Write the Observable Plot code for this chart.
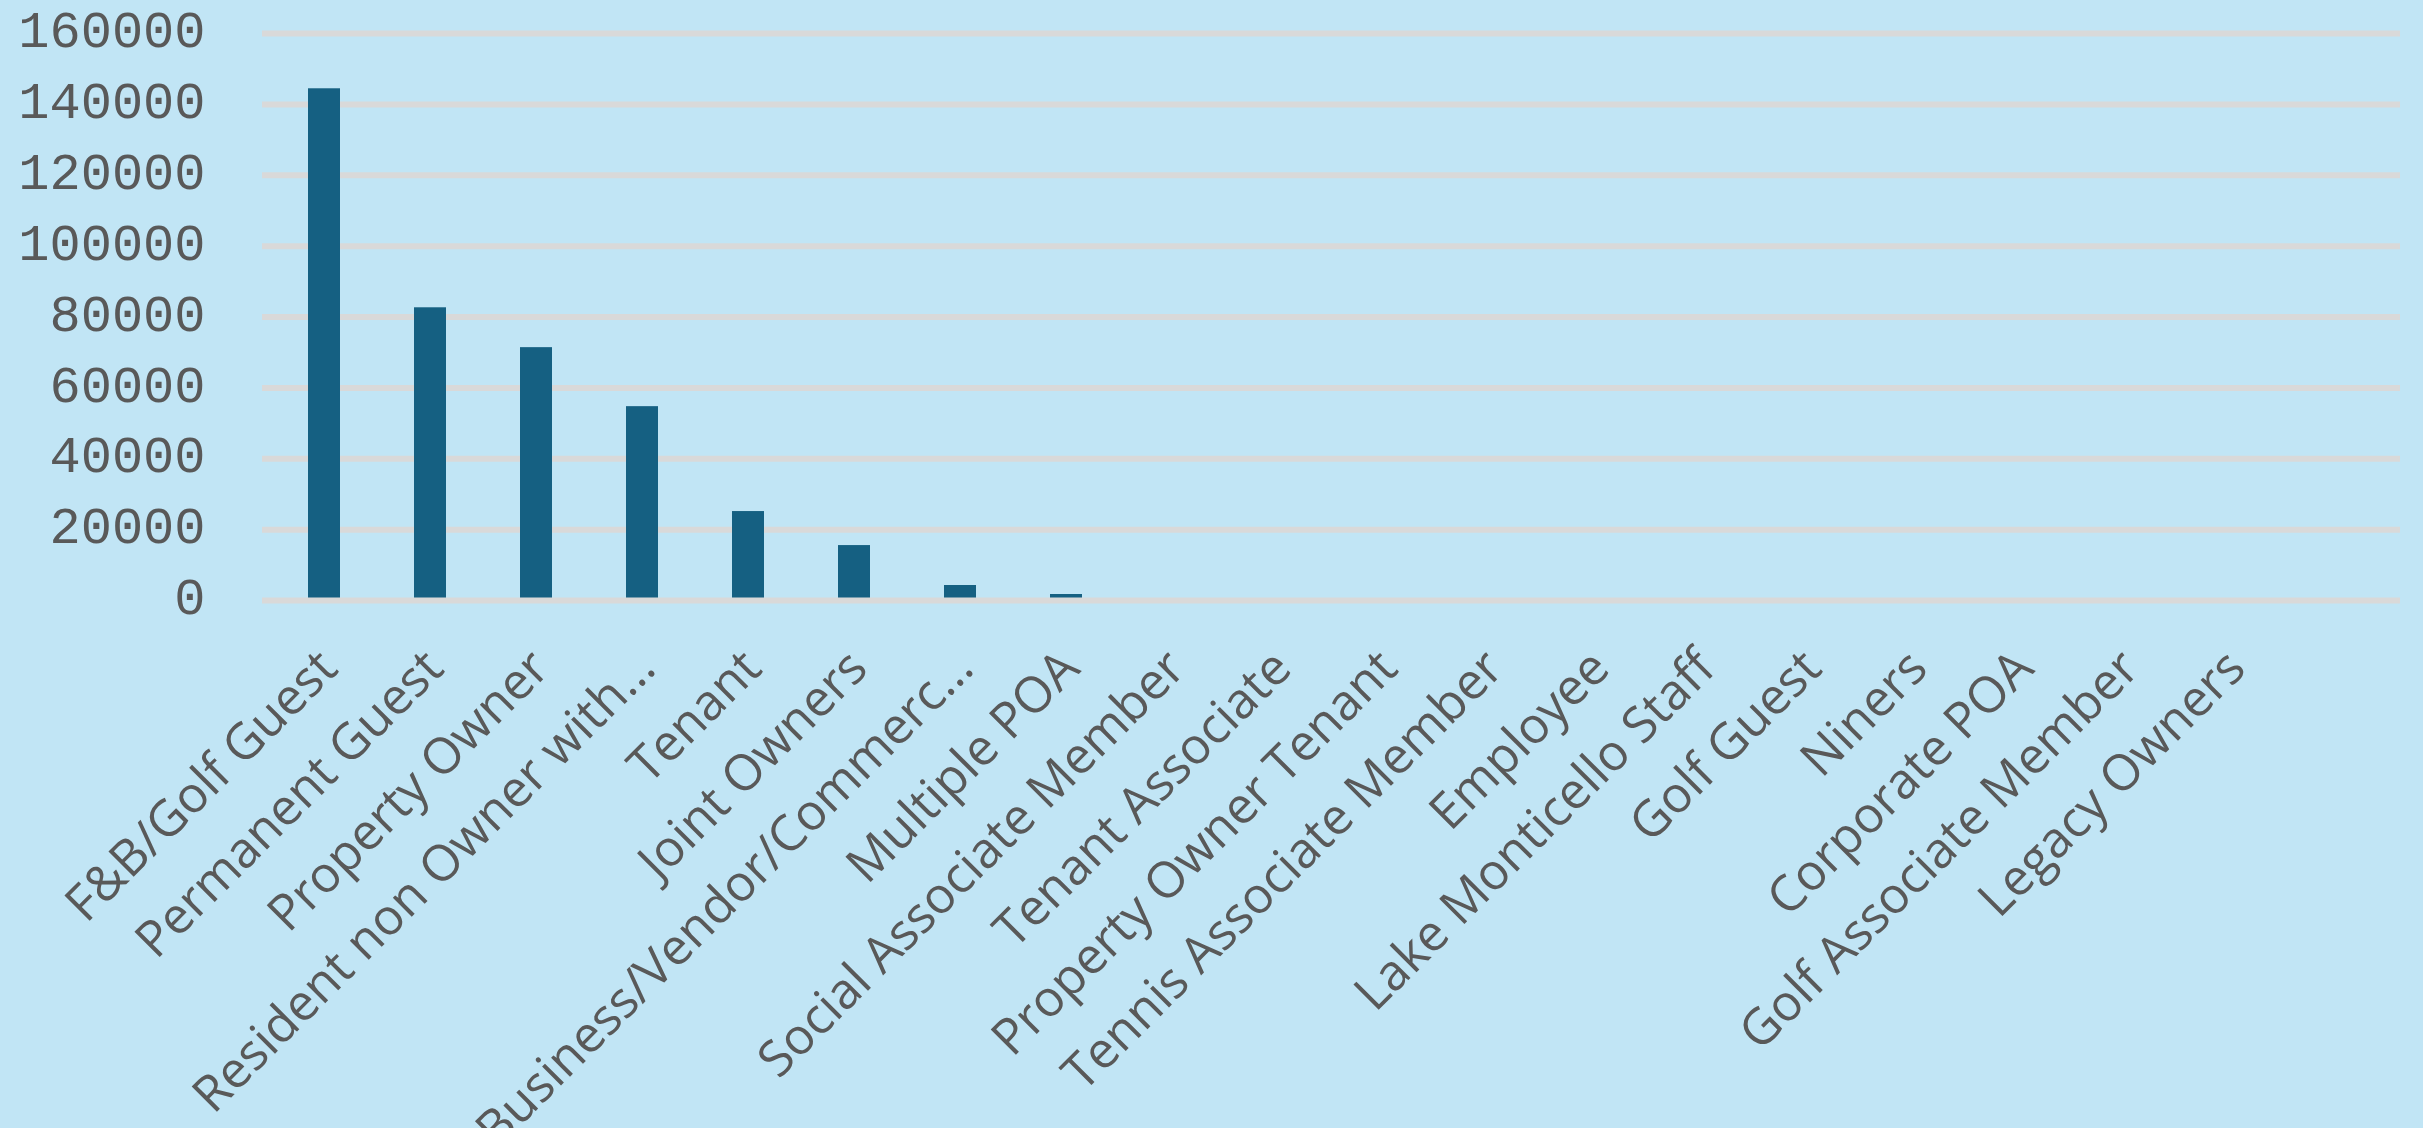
<!DOCTYPE html>
<html>
<head>
<meta charset="utf-8">
<script src="https://cdn.jsdelivr.net/npm/d3@7"></script>
<script src="https://cdn.jsdelivr.net/npm/@observablehq/plot@0.6"></script>
<style>
  html, body { margin: 0; padding: 0; background: #C1E5F5; }
  #chart svg { display: block; }
</style>
</head>
<body>
<div id="chart"></div>
<script>
const categories = [
  "F&B/Golf Guest",
  "Permanent Guest",
  "Property Owner",
  "Resident non Owner with…",
  "Tenant",
  "Joint Owners",
  "Business/Vendor/Commerc…",
  "Multiple POA",
  "Social Associate Member",
  "Tenant Associate",
  "Property Owner Tenant",
  "Tennis Associate Member",
  "Employee",
  "Lake Monticello Staff",
  "Golf Guest",
  "Niners",
  "Corporate POA",
  "Golf Associate Member",
  "Legacy Owners",
  ""
];
const values = [144400, 82600, 71350, 54700, 25100, 15500, 4230, 1690, 0, 0, 0, 0, 0, 0, 0, 0, 0, 0, 0, 0];
const yTicks = [0, 20000, 40000, 60000, 80000, 100000, 120000, 140000, 160000];

const data = categories.map((c, i) => ({category: c, value: values[i]}));

const chart = Plot.plot({
  width: 2423,
  height: 1128,
  marginLeft: 262,
  marginRight: 23,
  marginTop: 33,
  marginBottom: 528,
  style: {background: "#C1E5F5", color: "#595959", overflow: "visible"},
  x: {type: "band", domain: categories, padding: 0, axis: null},
  y: {domain: [0, 160000], axis: null},
  marks: [
    Plot.ruleY(yTicks.filter(d => d !== 0), {stroke: "#D9D9D9", strokeWidth: 6}),
    Plot.barY(data, {x: "category", y: "value", fill: "#156082", insetLeft: 37, insetRight: 37}),
    Plot.ruleY([0], {stroke: "#D9D9D9", strokeWidth: 6}),
    Plot.axisY({ticks: yTicks, tickFormat: d => String(d), label: null, tickSize: 0, tickPadding: 57, fontSize: 52, fontFamily: "Liberation Mono", fill: "#595959", dy: -3}),
    Plot.text(categories, {
      x: d => d,
      frameAnchor: "bottom",
      text: d => d,
      rotate: -45,
      textAnchor: "end",
      lineAnchor: "middle",
      dx: 4,
      dy: 59,
      fontSize: 50,
      fontFamily: "Open Sans",
      fill: "#595959"
    })
  ]
});
document.getElementById("chart").appendChild(chart);
</script>
</body>
</html>
